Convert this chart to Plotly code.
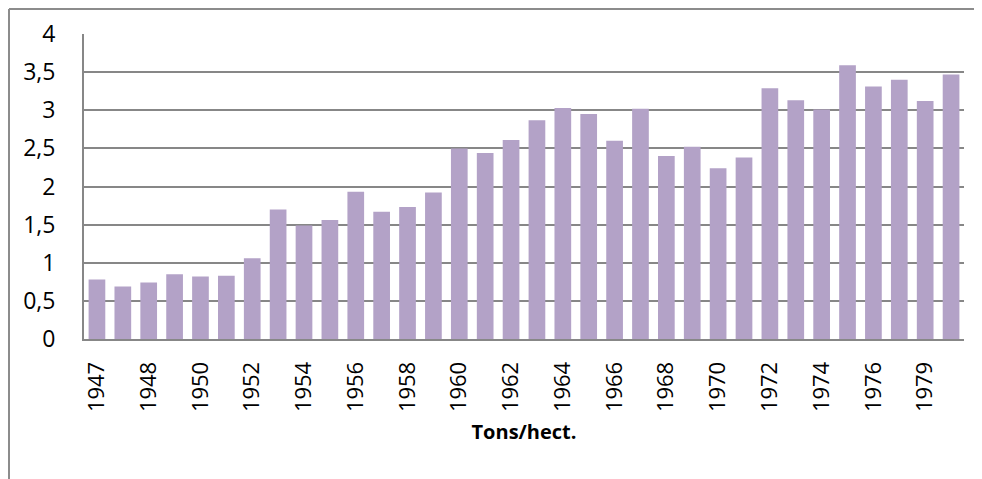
import plotly.graph_objects as go


# years on the category axis (only every other one is labelled)
years = ["1947", "1947", "1948", "1949", "1950", "1951", "1952", "1953", "1954",
         "1955", "1956", "1957", "1958", "1959", "1960", "1961", "1962", "1963",
         "1964", "1965", "1966", "1967", "1968", "1969", "1970", "1971", "1972",
         "1973", "1974", "1975", "1976", "1977", "1979", "1980"]

# yields, tons per hectare
yields = [0.78, 0.69, 0.74, 0.85, 0.82, 0.83, 1.06, 1.70, 1.49, 1.56, 1.93,
          1.67, 1.73, 1.92, 2.50, 2.44, 2.61, 2.87, 3.03, 2.95, 2.60, 3.02,
          2.40, 2.52, 2.24, 2.38, 3.29, 3.13, 3.01, 3.59, 3.31, 3.40, 3.12, 3.47]

y_ticks = [0, 0.5, 1, 1.5, 2, 2.5, 3, 3.5, 4]

pos = list(range(len(years)))

font_name = "Open Sans"
grid_col = "#878787"

# page body adds 8px, so the figure is a bit smaller than the window
W, H = 974, 471
ML, MR, MT, MB = 76, 18, 26, 140
plot_w = W - ML - MR
plot_h = H - MT - MB

fig = go.Figure()

fig.add_trace(go.Bar(
    x=pos,
    y=yields,
    marker=dict(color="#b3a2c7", line=dict(width=0)),
    width=0.645,
))

fig.update_xaxes(
    range=[-0.5, len(years) - 0.5],
    tickmode="array",
    tickvals=pos[::2],
    ticktext=years[::2],
    tickangle=-90,
    tickfont=dict(family=font_name, size=22, color="black"),
    showgrid=False,
    showline=True, linecolor=grid_col, linewidth=2,
    ticks="outside", ticklen=12, tickcolor="rgba(0,0,0,0)",
    title=dict(text="<b>Tons/hect.</b>", font=dict(family=font_name, size=20, color="black"), standoff=14),
)

fig.update_yaxes(
    range=[0, 4],
    tickvals=y_ticks,
    tickfont=dict(family=font_name, size=23, color="black"),
    showgrid=True, gridcolor=grid_col, gridwidth=2,
    showline=True, linecolor=grid_col, linewidth=2,
    zeroline=False,
    ticks="outside", ticklen=22, tickcolor="rgba(0,0,0,0)",
)

# frame of the chart area (only top and left edges are in view)
fx = (1 - ML) / plot_w
fy = 1 + (MT - 1) / plot_h
fig.add_shape(type="line", xref="paper", yref="paper", x0=fx, x1=1.05, y0=fy, y1=fy,
              line=dict(color="#8c8c8c", width=2))
fig.add_shape(type="line", xref="paper", yref="paper", x0=fx, x1=fx, y0=fy, y1=-0.6,
              line=dict(color="#8c8c8c", width=2))

fig.update_layout(
    width=W, height=H,
    margin=dict(l=ML, r=MR, t=MT, b=MB, autoexpand=False),
    paper_bgcolor="white",
    plot_bgcolor="white",
    separators=", ",
    showlegend=False,
    font=dict(family=font_name),
)

fig.write_html("out.html")
